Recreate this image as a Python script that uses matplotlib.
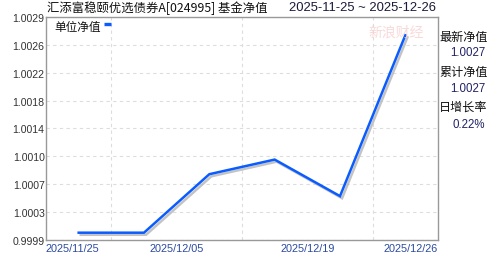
import matplotlib
matplotlib.use("Agg")
import matplotlib.pyplot as plt
import matplotlib.patheffects as pe
import numpy as np

# ---- data ----
nav_values = [1.0000, 1.0000, 1.0008, 1.0010, 1.0005, 1.0027]
x_tick_labels = ["2025/11/25", "2025/12/05", "2025/12/19", "2025/12/26"]
y_tick_labels = ["0.9999", "1.0003", "1.0007", "1.0010", "1.0014",
                 "1.0018", "1.0022", "1.0026", "1.0029"]
title_text = "汇添富稳颐优选债券A[024995] 基金净值"
range_text = "2025-11-25 ~ 2025-12-26"
legend_label = "单位净值"
side_labels = ["最新净值", "累计净值", "日增长率"]
side_values = ["1.0027", "1.0027", "0.22%"]
watermark = "新浪财经"

CJK = ["Noto Sans CJK SC", "DejaVu Sans"]
NUM = ["Liberation Sans", "DejaVu Sans"]

fig = plt.figure(figsize=(4.88, 2.55), dpi=100)
fig.patch.set_facecolor("white")
ax = fig.add_axes([46 / 488, 14 / 255, 392 / 488, 223 / 255])

x = np.arange(len(nav_values))
ax.plot(x, nav_values, color="#0a5cff", lw=1.8, solid_joinstyle="miter",
        path_effects=[pe.SimpleLineShadow(offset=(1.5, -1.5), shadow_color="#b5b5b5", alpha=0.8),
                      pe.Normal()])

ax.set_xlim(-0.5, len(nav_values) - 0.5)
ymin, ymax = 0.99990, 1.00295
ax.set_ylim(ymin, ymax)

# y ticks
ax.set_yticks(np.linspace(ymin, ymax, len(y_tick_labels)))
ax.set_yticklabels(y_tick_labels, fontfamily=NUM, fontsize=7.6, color="#333333")
ax.tick_params(axis="y", length=0, pad=1)

# x ticks
xt = [-0.5, 1.5, 3.5, 5.5]
ax.set_xticks(xt)
ax.set_xticklabels(x_tick_labels, fontfamily=NUM, fontsize=7.8, color="#2b4aa0")
ax.tick_params(axis="x", length=0, pad=2)
labs = ax.get_xticklabels()
labs[0].set_horizontalalignment("left")
labs[-1].set_horizontalalignment("right")
ax.set_xticks(np.arange(0.5, len(nav_values) - 0.5, 1.0), minor=True)
ax.tick_params(axis="x", which="minor", length=0)

ax.grid(True, axis="y", color="#dddddd", lw=0.8, ls=(0, (3, 3)))
ax.grid(True, axis="x", which="minor", color="#dddddd", lw=0.8, ls=(0, (3, 3)))
ax.grid(False, axis="x", which="major")
for s in ax.spines.values():
    s.set_color("#999999")
    s.set_linewidth(1.0)

# legend-like label
ax.text(8 / 392, 1 - 9 / 223, legend_label, transform=ax.transAxes, fontfamily=CJK,
        fontsize=8.4, va="center", ha="left", color="#111111")
ax.plot([58 / 392, 65 / 392], [1 - 7 / 223, 1 - 7 / 223], transform=ax.transAxes,
        color="#0a5cff", lw=2.4, solid_capstyle="butt")

# watermark
fig.text(396 / 488, 1 - 33 / 255, watermark, fontfamily=CJK, fontsize=10,
         color="#f8d0d0", ha="center", va="center", alpha=0.8)

# title and date range
fig.text(47 / 488, 1 - 8 / 255, title_text, fontfamily=CJK, fontsize=8.9,
         ha="left", va="center", color="#111111")
fig.text(436 / 488, 1 - 8 / 255, range_text, fontfamily=NUM, fontsize=9.4,
         ha="right", va="center", color="#1a1a3a")

# side panel
label_y = [37, 72, 107]
value_y = [53, 89, 125]
for lab, val, ly, vy in zip(side_labels, side_values, label_y, value_y):
    fig.text(439 / 488, 1 - ly / 255, lab, fontfamily=CJK, fontsize=8.7,
             ha="left", va="center", color="#111111")
    fig.text(485 / 488, 1 - vy / 255, val, fontfamily=NUM, fontsize=8.3,
             ha="right", va="center", color="#222266")

fig.savefig("out.png", dpi=100, facecolor="white")
